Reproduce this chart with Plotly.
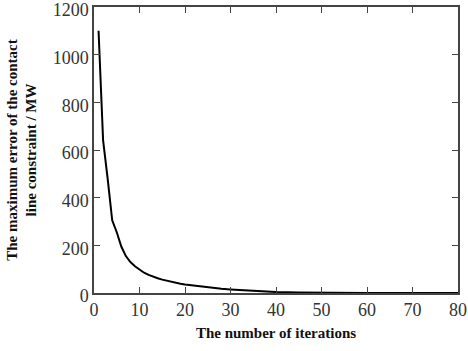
import plotly.graph_objects as go

iterations = [1, 2, 3, 4, 5, 6, 7, 8, 9, 10, 11, 12, 13, 14, 15, 16, 17, 18, 19, 20,
              22, 25, 28, 30, 33, 36, 40, 45, 50, 60, 70, 80]
max_error = [1100, 640, 480, 305, 255, 195, 155, 130, 112, 97, 85, 76, 68, 62, 56, 51, 47, 43, 39, 36,
             31, 24, 18, 15, 11, 7, 4, 2, 1, 0.5, 0.2, 0]

x_ticks = [0, 10, 20, 30, 40, 50, 60, 70, 80]
y_ticks = [0, 200, 400, 600, 800, 1000, 1200]

serif = "Liberation Serif"

fig = go.Figure()
fig.add_trace(go.Scatter(x=iterations, y=max_error, mode="lines",
                         line=dict(color="black", width=2), showlegend=False))

axis_common = dict(showgrid=False, zeroline=False, showline=True, linecolor="#444",
                   linewidth=1.5, mirror="ticks", ticks="inside", ticklen=6,
                   tickcolor="#444", tickwidth=1.2, ticklabeloverflow="allow",
                   automargin=False,
                   tickfont=dict(family=serif, size=18, color="#333"))

fig.update_xaxes(range=[0, 80], tickvals=x_ticks, **axis_common,
                 title=dict(text="<b>The number of iterations</b>",
                            font=dict(family=serif, size=15, color="#111"),
                            standoff=8))
fig.update_yaxes(range=[0, 1200], tickvals=y_ticks, ticklabelshift=3, **axis_common,
                 title=dict(text="<b>The maximum error of the contact<br>line constraint / MW</b>",
                            font=dict(family=serif, size=15, color="#111"),
                            standoff=12))

fig.update_layout(width=468, height=351, margin=dict(l=94, r=10, t=7, b=58),
                  plot_bgcolor="white", paper_bgcolor="white")

fig.write_html("out.html")
